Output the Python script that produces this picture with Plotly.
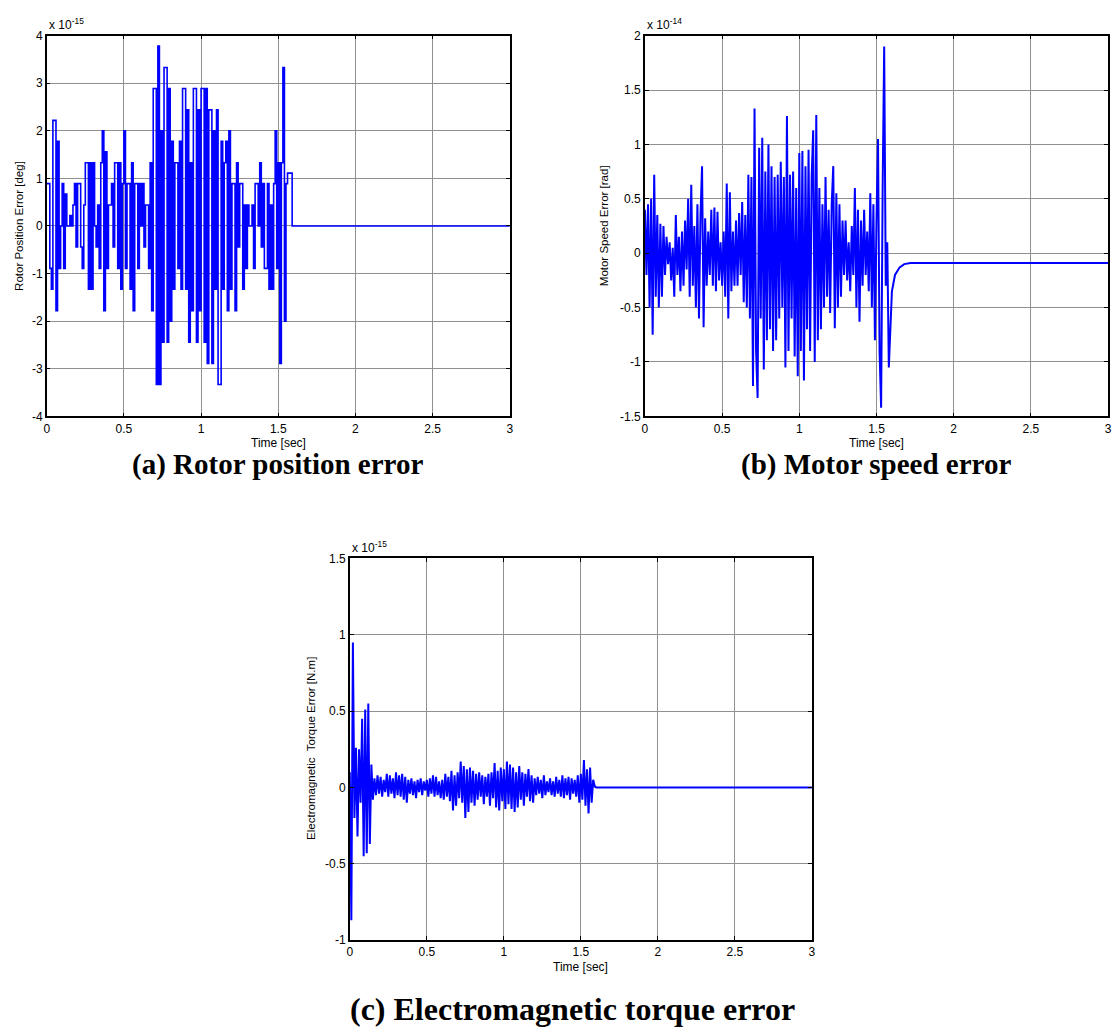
import plotly.graph_objects as go

# ---------------- data ----------------
T_END = 3.0
DT = 0.01

# (a) Rotor position error, units of 1e-15 deg, sampled every DT from t=0
rotor_err = [0.89, 0.89, -0.89, -1.33, 2.22, 2.22, -1.78, 1.78, -0.89, 0,
             0.89, -0.89, 0.67, 0, 0, 0.22, 0, 0.44, 0.89, -0.44,
             0.89, 0.89, -0.44, -0.89, 0.44, 1.33, 1.33, -1.33, 1.33, -1.33,
             1.33, 0, -0.44, 0.44, -0.89, 1.33, 2.0, -1.78, 1.56, -0.89,
             0.44, 0.44, 0.89, -0.44, 1.33, 1.33, -0.89, 1.33, -1.33, 0.89,
             2.0, -0.89, 0.89, 0.89, -1.33, 1.33, -1.78, 0.89, 0.89, -0.89,
             0.89, 0, 0.89, -0.44, 0.44, 0.44, -0.89, 1.33, -1.78, 2.89,
             2.89, -3.33, 3.78, -3.33, 2.0, -2.44, 3.33, 3.33, -2.44, 2.89,
             -2.0, 1.78, -1.33, 1.33, 1.33, -0.89, 1.78, -1.33, 2.89, 2.89,
             -1.33, 2.44, -2.44, 1.33, -1.78, 2.89, 2.89, -2.44, 2.44, -1.78,
             2.89, 2.89, -2.44, 2.89, -2.89, 2.44, 2.44, -2.89, 2.0, -1.33,
             2.44, -3.33, -3.33, 1.78, -1.33, 1.33, 1.78, -1.78, 2.0, -1.33,
             0.89, 0.89, -1.78, 1.33, -0.44, 0.89, 0.89, -1.33, 0.44, -0.89,
             0.44, 0, 0, 0.44, -0.89, 0.89, 0.89, 0, 1.33, -0.44,
             0.89, -0.89, -0.89, 0.89, -1.33, 0.44, -1.33, 0.89, 2.0, -0.89,
             1.33, -2.89, 1.33, 3.33, -2.0, 0.89, 1.11, 1.11, 1.11]
rotor_tail_t = [1.59, 3.0]
rotor_tail_v = [0.0, 0.0]

# (b) Motor speed error, units of 1e-14 rad, sampled every DT from t=0
speed_err = [0.4, -0.2, 0.45, -0.5, 0.5, -0.75, 0.72, -0.4, 0.35, -0.5,
             0.27, -0.4, 0.25, -0.2, 0.15, -0.1, 0.1, -0.25, 0.05, -0.4,
             0.35, -0.2, 0.15, -0.35, 0.2, -0.3, 0.3, -0.15, 0.5, -0.4,
             0.63, -0.3, 0.25, -0.5, 0.45, -0.6, 0.35, 0.8, -0.68, 0.32,
             -0.3, 0.2, -0.2, 0.4, -0.3, 0.42, -0.35, 0.38, -0.25, 0.1,
             -0.3, 0.2, -0.4, 0.64, -0.6, 0.56, -0.35, 0.2, -0.3, 0.3,
             -0.3, 0.37, -0.2, 0.47, -0.45, 0.35, -0.5, 0.72, -0.6, 0.7,
             -1.22, 1.33, -0.9, -1.33, 0.97, -0.6, 1.06, -1.07, 0.75, -0.8,
             1.0, -0.7, 0.8, -0.9, 0.7, -0.8, 0.72, -0.6, 0.84, -0.5,
             0.7, -1.05, 1.26, -0.9, 0.72, -0.6, 0.75, -0.95, 0.6, -1.13,
             0.92, -0.9, 0.94, -1.17, 0.8, -0.7, 0.95, -0.9, 0.7, 1.13,
             -1.0, 1.27, -0.8, 0.6, -0.7, 0.45, -0.5, 0.7, -0.4, 0.4,
             -0.55, 0.45, 0.8, -0.69, 0.55, -0.5, 0.45, -0.4, 0.3, -0.2,
             0.3, -0.25, 0.1, -0.35, 0.25, -0.2, 0.6, -0.5, 0.4, -0.63,
             0.3, -0.3, 0.4, -0.2, 0.2, -0.35, 0.55, -0.5, 0.45, -0.8,
             0.3, 1.05, -0.9, -1.42, 0.6, 1.9, -0.3, 0.1, -1.05]
speed_tail_t = [1.59, 1.60, 1.62, 1.65, 1.68, 1.72, 3.0]
speed_tail_v = [-0.62, -0.35, -0.2, -0.13, -0.1, -0.09, -0.09]

# (c) Electromagnetic torque error, units of 1e-15 N.m, sampled every DT from t=0
torque_err = [0.1, -0.87, 0.95, -0.2, 0.26, -0.32, 0.25, -0.1, 0.45, -0.45,
              0.51, -0.43, 0.55, -0.37, 0.15, -0.08, 0.06, -0.05, 0.08, -0.04,
              0.07, -0.06, 0.05, -0.03, 0.09, -0.06, 0.08, -0.04, 0.06, -0.07,
              0.1, -0.05, 0.08, -0.06, 0.09, -0.08, 0.07, -0.1, 0.05, -0.04,
              0.06, -0.05, 0.04, -0.07, 0.05, -0.03, 0.06, -0.05, 0.04, -0.02,
              0.05, -0.06, 0.06, -0.04, 0.08, -0.06, 0.07, -0.05, 0.04, -0.07,
              0.05, -0.08, 0.09, -0.06, 0.07, -0.09, 0.11, -0.15, 0.08, -0.12,
              0.1, -0.07, 0.17, -0.1, 0.14, -0.2, 0.12, -0.16, 0.13, -0.1,
              0.11, -0.12, 0.09, -0.08, 0.1, -0.06, 0.08, -0.11, 0.07, -0.06,
              0.09, -0.12, 0.1, -0.07, 0.16, -0.13, 0.11, -0.15, 0.13, -0.09,
              0.12, -0.14, 0.17, -0.11, 0.15, -0.14, 0.13, -0.16, 0.1, -0.13,
              0.14, -0.08, 0.1, -0.12, 0.09, -0.06, 0.12, -0.09, 0.08, -0.1,
              0.06, -0.05, 0.07, -0.04, 0.05, -0.07, 0.08, -0.05, 0.04, -0.03,
              0.06, -0.05, 0.04, -0.06, 0.07, -0.04, 0.05, -0.06, 0.08, -0.07,
              0.06, -0.05, 0.07, -0.08, 0.06, -0.04, 0.05, -0.06, 0.08, -0.1,
              0.09, -0.08, 0.18, -0.12, 0.12, -0.17, 0.13, -0.1, 0.05, 0.01,
              0.0]
torque_final = 0.0

x_tickvals = [0, 0.5, 1, 1.5, 2, 2.5, 3]
x_ticktext = ["0", "0.5", "1", "1.5", "2", "2.5", "3"]
a_tickvals = [-4, -3, -2, -1, 0, 1, 2, 3, 4]
a_ticktext = ["-4", "-3", "-2", "-1", "0", "1", "2", "3", "4"]
b_tickvals = [-1.5, -1, -0.5, 0, 0.5, 1, 1.5, 2]
b_ticktext = ["-1.5", "-1", "-0.5", "0", "0.5", "1", "1.5", "2"]
c_tickvals = [-1, -0.5, 0, 0.5, 1, 1.5]
c_ticktext = ["-1", "-0.5", "0", "0.5", "1", "1.5"]

# ---------------- figure ----------------
W, H = 1114, 1035
BLUE = "#0000FF"


def times(n, dt):
    return [round(i * dt, 4) for i in range(n)]


fig = go.Figure()

ta = times(len(rotor_err), DT) + rotor_tail_t
fig.add_trace(go.Scatter(x=ta, y=rotor_err + rotor_tail_v, mode="lines",
                         line=dict(color=BLUE, width=1.6, shape="hv"),
                         xaxis="x", yaxis="y", showlegend=False))

tb = times(len(speed_err), DT) + speed_tail_t
fig.add_trace(go.Scatter(x=tb, y=speed_err + speed_tail_v, mode="lines",
                         line=dict(color=BLUE, width=2),
                         xaxis="x2", yaxis="y2", showlegend=False))

tc = times(len(torque_err), DT) + [T_END]
fig.add_trace(go.Scatter(x=tc, y=torque_err + [torque_final], mode="lines",
                         line=dict(color=BLUE, width=2),
                         xaxis="x3", yaxis="y3", showlegend=False))


def px_x(p):
    return p / W


def px_y(p):
    return 1 - p / H


TICKFONT = dict(family="Liberation Sans, Arial", size=12, color="black")
common = dict(showline=True, linecolor="black", linewidth=1.5, mirror="allticks",
              ticks="inside", ticklen=4, tickcolor="black", tickwidth=1,
              showgrid=True, gridcolor="#8f8f8f", gridwidth=1,
              zeroline=False, tickfont=TICKFONT, fixedrange=True)

# domains in pixels
A_X = (44, 510); B_X = (646, 1112); C_X = (349, 814)
AB_Y = (29, 415); C_Y = (559, 946)

fig.update_layout(
    width=W, height=H, margin=dict(l=0, r=0, t=0, b=0),
    paper_bgcolor="white", plot_bgcolor="white",
    xaxis=dict(domain=[px_x(A_X[0]), px_x(A_X[1])], anchor="y", range=[0, 3],
               tickvals=x_tickvals, ticktext=x_ticktext, **common),
    yaxis=dict(domain=[px_y(AB_Y[1]), px_y(AB_Y[0])], anchor="x", range=[-4, 4],
               tickvals=a_tickvals, ticktext=a_ticktext, **common),
    xaxis2=dict(domain=[px_x(B_X[0]), px_x(B_X[1])], anchor="y2", range=[0, 3],
                tickvals=x_tickvals, ticktext=x_ticktext, **common),
    yaxis2=dict(domain=[px_y(AB_Y[1]), px_y(AB_Y[0])], anchor="x2", range=[-1.5, 2],
                tickvals=b_tickvals, ticktext=b_ticktext, **common),
    xaxis3=dict(domain=[px_x(C_X[0]), px_x(C_X[1])], anchor="y3", range=[0, 3],
                tickvals=x_tickvals, ticktext=x_ticktext, **common),
    yaxis3=dict(domain=[px_y(C_Y[1]), px_y(C_Y[0])], anchor="x3", range=[-1, 1.5],
                tickvals=c_tickvals, ticktext=c_ticktext, **common),
)

LABELFONT = dict(family="Liberation Sans, Arial", size=12, color="black")
YLABELFONT = dict(family="Liberation Sans, Arial", size=11.5, color="black")
CAPFONT = dict(family="Liberation Serif, Times New Roman", size=29, color="black")
CAPFONT_C = dict(family="Liberation Serif, Times New Roman", size=32, color="black")


def ann(text, x, y, font, angle=0, xanchor="center", yanchor="middle"):
    fig.add_annotation(text=text, x=px_x(x), y=px_y(y), xref="paper", yref="paper",
                       showarrow=False, font=font, textangle=angle,
                       xanchor=xanchor, yanchor=yanchor)


# axis titles
ann("Rotor Position Error [deg]", 16, 222, YLABELFONT, angle=-90)
ann("Time [sec]", 277, 442, LABELFONT)
ann("Motor Speed Error [rad]", 605, 222, YLABELFONT, angle=-90)
ann("Time [sec]", 879, 442, LABELFONT)
ann("Electromagnetic  Torque Error [N.m]", 310, 752, YLABELFONT, angle=-90)
ann("Time [sec]", 581, 973, LABELFONT)

# exponent labels
ann("x 10<sup>-15</sup>", 44, 17, LABELFONT, xanchor="left")
ann("x 10<sup>-14</sup>", 646, 17, LABELFONT, xanchor="left")
ann("x 10<sup>-15</sup>", 349, 547, LABELFONT, xanchor="left")

# captions
ann("<b>(a) Rotor position error</b>", 276, 464, CAPFONT)
ann("<b>(b) Motor speed error</b>", 879, 464, CAPFONT)
ann("<b>(c) Electromagnetic torque error</b>", 573, 1016, CAPFONT_C)

fig.write_html("out.html")
